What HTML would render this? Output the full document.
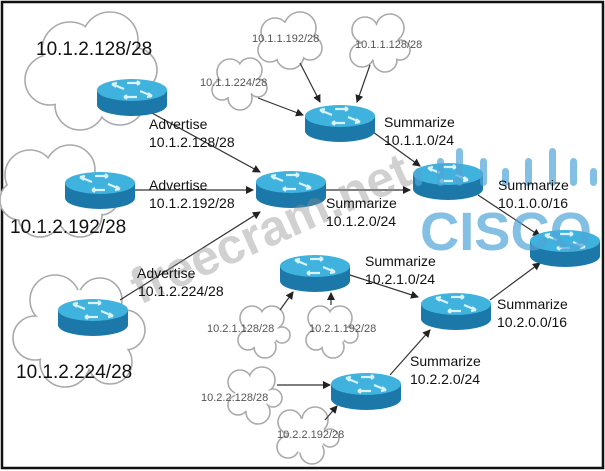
<!DOCTYPE html>
<html><head><meta charset="utf-8"><style>
html,body{margin:0;padding:0;background:#fff}
svg{display:block}
text{font-family:"Liberation Sans",Arial,sans-serif}
</style></head><body>
<svg width="605" height="471" viewBox="0 0 605 471" xmlns="http://www.w3.org/2000/svg">
<defs>
<symbol id="rt" overflow="visible">
<path d="M-35,-6 L-35,9 A35,11 0 0 0 35,9 L35,-6 Z" fill="#1c78a8"/>
<ellipse cx="0" cy="-6" rx="35" ry="11" fill="#3fb2dd"/>
<g stroke="#d9f2fb" stroke-width="2.2" fill="none">
<path d="M-20,-12 L-8,-7 M-20,-12 l4,3 M-20,-12 l5,-1"/>
<path d="M20,0 L8,-5 M20,0 l-4,-3 M20,0 l-5,1"/>
<path d="M-5,-13 L8,-13 M8,-13 l-3,-2 M8,-13 l-3,2"/>
<path d="M5,1 L-8,1 M-8,1 l3,-2 M-8,1 l3,2"/>
</g>
</symbol>
<marker id="ah" markerWidth="8" markerHeight="8" refX="7" refY="4" orient="auto" markerUnits="userSpaceOnUse"><path d="M0,0 L8,4 L0,8 Z" fill="#222"/></marker>
</defs>
<rect x="2" y="2" width="601" height="466" fill="#fff" stroke="#111" stroke-width="2.5"/>

<g fill="#fff" stroke="#aaa" stroke-width="1.6">
<circle cx="70" cy="50" r="28"/><circle cx="110" cy="40" r="28"/><circle cx="135" cy="70" r="22"/><circle cx="120" cy="100" r="25"/><circle cx="80" cy="105" r="25"/><circle cx="50" cy="80" r="25"/>
<circle cx="30" cy="175" r="25"/><circle cx="70" cy="170" r="25"/><circle cx="100" cy="195" r="20"/><circle cx="80" cy="215" r="22"/><circle cx="40" cy="215" r="22"/><circle cx="20" cy="200" r="20"/>
<circle cx="55" cy="300" r="25"/><circle cx="100" cy="300" r="22"/><circle cx="125" cy="330" r="20"/><circle cx="110" cy="362" r="22"/><circle cx="65" cy="362" r="25"/><circle cx="35" cy="338" r="22"/>
<circle cx="275" cy="32" r="14"/><circle cx="300" cy="28" r="16"/><circle cx="310" cy="48" r="12"/><circle cx="290" cy="55" r="14"/><circle cx="270" cy="50" r="12"/>
<circle cx="365" cy="30" r="13"/><circle cx="390" cy="28" r="14"/><circle cx="400" cy="50" r="10"/><circle cx="385" cy="60" r="12"/><circle cx="362" cy="55" r="12"/>
<circle cx="230" cy="72" r="13"/><circle cx="250" cy="70" r="12"/><circle cx="258" cy="88" r="9"/><circle cx="240" cy="98" r="12"/><circle cx="222" cy="90" r="10"/>
<circle cx="252" cy="318" r="12"/><circle cx="272" cy="318" r="12"/><circle cx="282" cy="335" r="8"/><circle cx="265" cy="347" r="11"/><circle cx="248" cy="340" r="10"/>
<circle cx="320" cy="318" r="12"/><circle cx="340" cy="318" r="12"/><circle cx="350" cy="335" r="8"/><circle cx="333" cy="347" r="11"/><circle cx="316" cy="340" r="10"/>
<circle cx="240" cy="382" r="12"/><circle cx="262" cy="380" r="13"/><circle cx="273" cy="398" r="9"/><circle cx="258" cy="412" r="12"/><circle cx="238" cy="405" r="10"/>
<circle cx="290" cy="422" r="12"/><circle cx="315" cy="420" r="13"/><circle cx="330" cy="438" r="9"/><circle cx="312" cy="452" r="12"/><circle cx="288" cy="447" r="11"/>
</g>
<g fill="#fff">
<circle cx="70" cy="50" r="27"/><circle cx="110" cy="40" r="27"/><circle cx="135" cy="70" r="21"/><circle cx="120" cy="100" r="24"/><circle cx="80" cy="105" r="24"/><circle cx="50" cy="80" r="24"/><circle cx="90" cy="72" r="36"/>
<circle cx="30" cy="175" r="24"/><circle cx="70" cy="170" r="24"/><circle cx="100" cy="195" r="19"/><circle cx="80" cy="215" r="21"/><circle cx="40" cy="215" r="21"/><circle cx="20" cy="200" r="19"/><circle cx="60" cy="195" r="30"/>
<circle cx="55" cy="300" r="24"/><circle cx="100" cy="300" r="21"/><circle cx="125" cy="330" r="19"/><circle cx="110" cy="362" r="21"/><circle cx="65" cy="362" r="24"/><circle cx="35" cy="338" r="21"/><circle cx="78" cy="330" r="40"/>
<circle cx="275" cy="32" r="13"/><circle cx="300" cy="28" r="15"/><circle cx="310" cy="48" r="11"/><circle cx="290" cy="55" r="13"/><circle cx="270" cy="50" r="11"/><circle cx="290" cy="40" r="18"/>
<circle cx="365" cy="30" r="12"/><circle cx="390" cy="28" r="13"/><circle cx="400" cy="50" r="9"/><circle cx="385" cy="60" r="11"/><circle cx="362" cy="55" r="11"/><circle cx="380" cy="43" r="18"/>
<circle cx="230" cy="72" r="12"/><circle cx="250" cy="70" r="11"/><circle cx="258" cy="88" r="8"/><circle cx="240" cy="98" r="11"/><circle cx="222" cy="90" r="9"/><circle cx="238" cy="84" r="16"/>
<circle cx="252" cy="318" r="11"/><circle cx="272" cy="318" r="11"/><circle cx="282" cy="335" r="7"/><circle cx="265" cy="347" r="10"/><circle cx="248" cy="340" r="9"/><circle cx="262" cy="332" r="16"/>
<circle cx="320" cy="318" r="11"/><circle cx="340" cy="318" r="11"/><circle cx="350" cy="335" r="7"/><circle cx="333" cy="347" r="10"/><circle cx="316" cy="340" r="9"/><circle cx="330" cy="332" r="16"/>
<circle cx="240" cy="382" r="11"/><circle cx="262" cy="380" r="12"/><circle cx="273" cy="398" r="8"/><circle cx="258" cy="412" r="11"/><circle cx="238" cy="405" r="9"/><circle cx="252" cy="395" r="17"/>
<circle cx="290" cy="422" r="11"/><circle cx="315" cy="420" r="12"/><circle cx="330" cy="438" r="8"/><circle cx="312" cy="452" r="11"/><circle cx="288" cy="447" r="10"/><circle cx="307" cy="436" r="18"/>
</g>

<g stroke="#333" stroke-width="1.2" marker-end="url(#ah)">
<line x1="150" y1="112" x2="260" y2="172"/>
<line x1="135" y1="190" x2="253" y2="190"/>
<line x1="120" y1="300" x2="260" y2="212"/>
<line x1="373" y1="132" x2="420" y2="166"/>
<line x1="325" y1="190" x2="410" y2="190"/>
<line x1="478" y1="195" x2="540" y2="236"/>
<line x1="350" y1="275" x2="418" y2="297"/>
<line x1="490" y1="300" x2="540" y2="263"/>
<line x1="390" y1="375" x2="430" y2="330"/>
<line x1="300" y1="63" x2="320" y2="102"/>
<line x1="370" y1="65" x2="357" y2="102"/>
<line x1="258" y1="98" x2="303" y2="115"/>
<line x1="280" y1="310" x2="293" y2="292"/>
<line x1="331" y1="305" x2="331" y2="293"/>
<line x1="277" y1="385" x2="330" y2="385"/>
<line x1="325" y1="420" x2="337" y2="406"/>
</g>

<use href="#rt" x="132" y="96"/>
<use href="#rt" x="100" y="189"/>
<use href="#rt" x="93" y="316"/>
<use href="#rt" x="291" y="188"/>
<use href="#rt" x="340" y="122"/>
<use href="#rt" x="448" y="180"/>
<use href="#rt" x="565" y="247"/>
<use href="#rt" x="315" y="272"/>
<use href="#rt" x="456" y="310"/>
<use href="#rt" x="366" y="390"/>

<g fill="rgba(80,165,215,0.7)">
<rect x="415" y="168" width="7" height="18" rx="3.5"/>
<rect x="437" y="158" width="7" height="28" rx="3.5"/>
<rect x="456" y="148" width="7" height="38" rx="3.5"/>
<rect x="480" y="158" width="7" height="28" rx="3.5"/>
<rect x="502" y="168" width="7" height="18" rx="3.5"/>
<rect x="525" y="158" width="7" height="28" rx="3.5"/>
<rect x="549" y="148" width="7" height="38" rx="3.5"/>
<rect x="570" y="158" width="7" height="28" rx="3.5"/>
<rect x="590" y="168" width="7" height="18" rx="3.5"/>
<text x="420" y="250" font-size="54" font-weight="bold" textLength="172" lengthAdjust="spacingAndGlyphs">CISCO</text>
</g>
<text x="140" y="305" font-size="50" font-weight="bold" fill="rgba(140,140,140,0.4)" transform="rotate(-24 140 305)">freecram.net</text>

<g fill="#111">
<text x="36" y="55" font-size="19">10.1.2.128/28</text>
<text x="10" y="233" font-size="19">10.1.2.192/28</text>
<text x="16" y="378" font-size="19">10.1.2.224/28</text>
<g font-size="14">
<text x="149" y="129">Advertise</text><text x="149" y="147">10.1.2.128/28</text>
<text x="149" y="190">Advertise</text><text x="149" y="208">10.1.2.192/28</text>
<text x="137" y="278">Advertise</text><text x="138" y="296">10.1.2.224/28</text>
<text x="384" y="127">Summarize</text><text x="384" y="145">10.1.1.0/24</text>
<text x="326" y="208">Summarize</text><text x="326" y="226">10.1.2.0/24</text>
<text x="498" y="190">Summarize</text><text x="498" y="208">10.1.0.0/16</text>
<text x="365" y="266">Summarize</text><text x="365" y="284">10.2.1.0/24</text>
<text x="497" y="309">Summarize</text><text x="497" y="327">10.2.0.0/16</text>
<text x="410" y="366">Summarize</text><text x="410" y="384">10.2.2.0/24</text>
</g>
</g>
<g fill="#555" font-size="11">
<text x="252" y="42">10.1.1.192/28</text>
<text x="355" y="48">10.1.1.128/28</text>
<text x="200" y="86">10.1.1.224/28</text>
<text x="207" y="332">10.2.1.128/28</text>
<text x="309" y="332">10.2.1.192/28</text>
<text x="201" y="401">10.2.2.128/28</text>
<text x="277" y="438">10.2.2.192/28</text>
</g>
</svg>
</body></html>
